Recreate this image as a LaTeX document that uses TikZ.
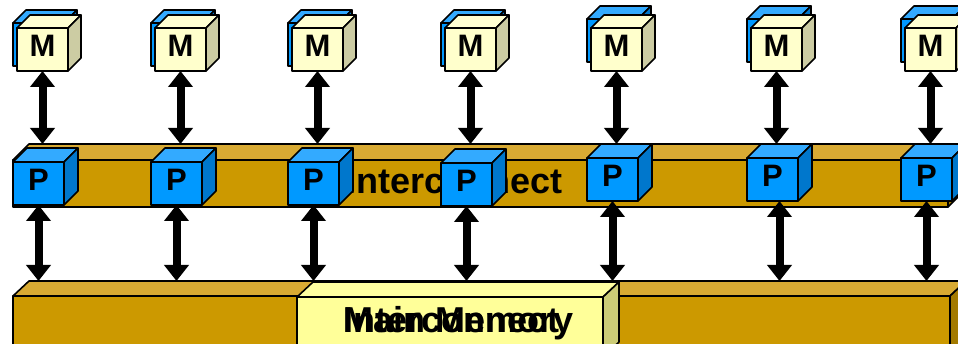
\documentclass[tikz,border=0pt]{standalone}
\usepackage{fontspec}
\setmainfont{Liberation Sans}
\usetikzlibrary{arrows.meta,calc}

\definecolor{slabfront}{RGB}{204,153,0}
\definecolor{slabtop}{RGB}{216,170,51}
\definecolor{slabside}{RGB}{163,122,0}
\definecolor{procfront}{RGB}{0,153,255}
\definecolor{proctop}{RGB}{51,170,255}
\definecolor{procside}{RGB}{0,119,204}
\definecolor{memfront}{RGB}{255,255,204}
\definecolor{memtop}{RGB}{255,255,210}
\definecolor{memside}{RGB}{204,204,163}
\definecolor{mmfront}{RGB}{255,255,153}
\definecolor{mmtop}{RGB}{255,255,160}
\definecolor{mmside}{RGB}{204,204,119}

\tikzset{
  face/.style={draw,line width=1.6pt,line join=round},
  slab/.style={face,inner sep=0pt,outer sep=0pt,anchor=north west},
  cube/.style={face,inner sep=0pt,outer sep=0pt,anchor=north west,
    minimum width=51pt,minimum height=43pt,text depth=7pt,
    font=\bfseries\fontsize{31}{31}\selectfont},
  lbl/.style={anchor=base west,inner sep=0pt,font=\bfseries\fontsize{36}{36}\selectfont},
  bus/.style={line width=8pt,{Triangle[width=24pt,length=16pt]}-{Triangle[width=24pt,length=16pt]}}
}

\newcommand{\drawfaces}[5]{%
  \draw[face,fill=#4] (#1.north west) -- ++(#2,-#3) -- ($(#1.north east)+(#2,-#3)$) -- (#1.north east) -- cycle;
  \draw[face,fill=#5] (#1.north east) -- ++(#2,-#3) -- ($(#1.south east)+(#2,-#3)$) -- (#1.south east) -- cycle;}

\begin{document}
\begin{tikzpicture}[x=1pt,y=-1pt]
  \useasboundingbox (0,0) rectangle (958,344);
  \clip (0,0) rectangle (958,344);

  \node[slab,fill=slabfront,minimum width=937pt,minimum height=60pt] (mem) at (13,296) {};
  \drawfaces{mem}{16}{15}{slabtop}{slabside}
  \coordinate (memtop) at ($(mem.north west)+(16,-15)$);

  \node[slab,fill=mmfront,minimum width=306pt,minimum height=60pt] (mm) at (297,297) {};
  \drawfaces{mm}{16}{15}{mmtop}{mmside}
  \node[lbl] (mmlbl) at (343,333) {Main Memory};
  \node[lbl] (mmghost) at (343,333) {Interconnect};

  \node[slab,fill=slabfront,minimum width=935pt,minimum height=47pt] (ict) at (13,160) {};
  \drawfaces{ict}{16}{16}{slabtop}{slabside}
  \coordinate (icttop) at ($(ict.north west)+(16,-16)$);
  \node[lbl] (ictlbl) at (346,194) {Interconnect};

  \foreach \px/\py/\bd/\ax [count=\i] in {13/162/5/0, 151/162/5/0, 288/162/5/0, 441/163/5/0,
                                          587/158/9/0, 747/158/9/7, 901/158/9/0}{
    \node[cube,fill=procfront] (p\i) at (\px,\py) {P};
    \drawfaces{p\i}{14}{14}{proctop}{procside}
    \node[cube,fill=procfront] (mb\i) at (\px,28-\bd) {};
    \drawfaces{mb\i}{13}{13}{proctop}{procside}
    \node[cube,fill=memfront] (m\i) at (\px+4,28) {M};
    \drawfaces{m\i}{13}{13}{memtop}{memside}
    \draw[bus] (m\i.south) -- (m\i.south |- icttop);
    \draw[bus] ([xshift=\ax]p\i.south) -- ([xshift=\ax]p\i.south |- memtop);
  }
\end{tikzpicture}
\end{document}
